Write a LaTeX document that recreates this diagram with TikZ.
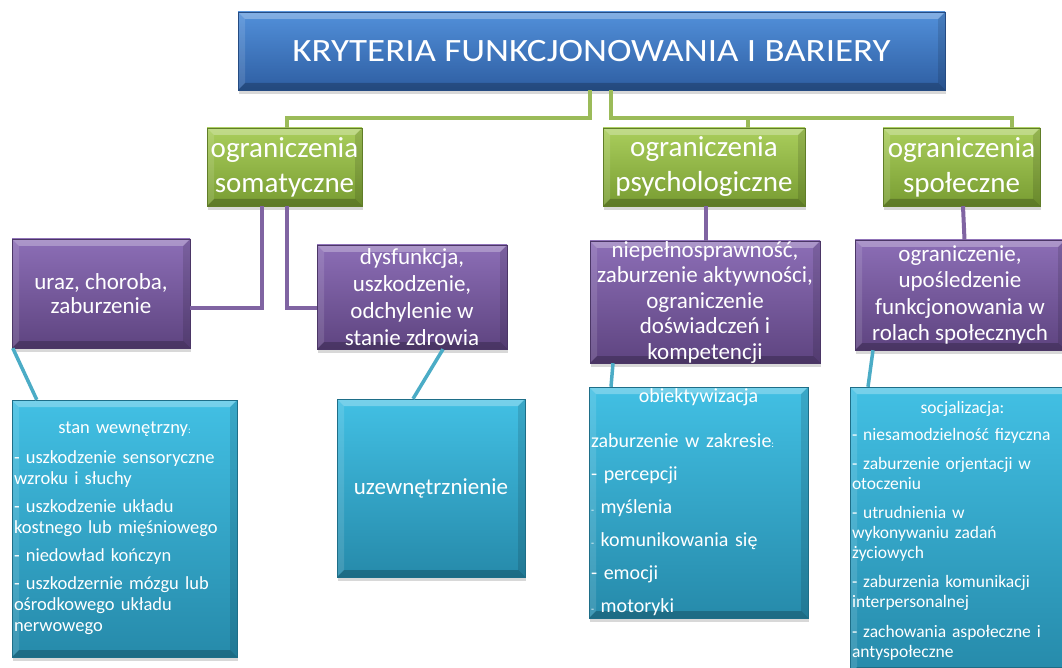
\documentclass[tikz,border=0pt]{standalone}
\usepackage{fontspec}
\setmainfont{Carlito}
\usepackage{tikz}
\usetikzlibrary{shadows}
\definecolor{titletop}{RGB}{82,144,218}
\definecolor{titlebot}{RGB}{46,94,162}
\definecolor{grtop}{RGB}{170,206,92}
\definecolor{grbot}{RGB}{120,156,50}
\definecolor{putop}{RGB}{140,110,182}
\definecolor{pubot}{RGB}{94,68,128}
\definecolor{tltop}{RGB}{66,192,228}
\definecolor{tlbot}{RGB}{38,138,170}
\definecolor{grline}{RGB}{155,187,89}
\definecolor{puline}{RGB}{128,100,162}
\definecolor{tlline}{RGB}{75,172,198}
\tikzset{
    bevel/.style={
        path picture={
            \fill[white, opacity=0.28] (path picture bounding box.north west) -- (path picture bounding box.north east)
                -- ([xshift=-7pt, yshift=-7pt]path picture bounding box.north east)
                -- ([xshift=7pt, yshift=-7pt]path picture bounding box.north west) -- cycle;
            \fill[white, opacity=0.12] (path picture bounding box.north west) -- (path picture bounding box.south west)
                -- ([xshift=7pt, yshift=7pt]path picture bounding box.south west)
                -- ([xshift=7pt, yshift=-7pt]path picture bounding box.north west) -- cycle;
            \fill[black, opacity=0.12] (path picture bounding box.north east) -- (path picture bounding box.south east)
                -- ([xshift=-7pt, yshift=7pt]path picture bounding box.south east)
                -- ([xshift=-7pt, yshift=-7pt]path picture bounding box.north east) -- cycle;
            \fill[black, opacity=0.22] (path picture bounding box.south west) -- (path picture bounding box.south east)
                -- ([xshift=-7pt, yshift=7pt]path picture bounding box.south east)
                -- ([xshift=7pt, yshift=7pt]path picture bounding box.south west) -- cycle;
        }
    },
    boxbase/.style={
        rectangle, inner sep=0pt, text=white, bevel,
        drop shadow={shadow xshift=1pt, shadow yshift=-4pt, opacity=0.3}
    },
    boxsize/.style 2 args={minimum width=#1pt, minimum height=#2pt},
    titlebox/.style={boxbase, top color=titletop, bottom color=titlebot, draw=titlebot!80!black,
        font=\fontsize{37}{40}\selectfont},
    greenbox/.style={boxbase, top color=grtop, bottom color=grbot, draw=grbot!80!black,
        align=center, font=\fontsize{29}{35}\selectfont},
    purplebox/.style={boxbase, top color=putop, bottom color=pubot, draw=pubot!80!black,
        align=center, font=\fontsize{23}{27}\selectfont},
    bluebox/.style={boxbase, top color=tltop, bottom color=tlbot, draw=tlbot!80!black,
        align=left, inner xsep=2pt},
    gline/.style={grline, line width=4pt},
    pline/.style={puline, line width=4pt},
    tline/.style={tlline, line width=3.5pt}
}
\newcommand{\smallsign}[1]{{\fontsize{10}{12}\selectfont #1}}

\begin{document}
\begin{tikzpicture}[x=1pt, y=-1pt]
    \clip (0,0) rectangle (1062,668);
    \fill[white] (0,0) rectangle (1062,668);

    % draw top box
    \node[titlebox, boxsize={707}{78}] (title) at (591.5,51) {\scalebox{1}[0.88]{KRYTERIA FUNKCJONOWANIA I BARIERY}};

    % draw green boxes
    \node[greenbox, boxsize={155}{78}] (som) at (284.5,167) {ograniczenia\\somatyczne};
    \node[greenbox, boxsize={202}{78}] (psy) at (704,167) {ograniczenia\\psychologiczne};
    \node[greenbox, boxsize={157}{78}] (spo) at (961.5,167) {ograniczenia\\społeczne};

    % draw purple boxes
    \node[purplebox, boxsize={178}{109}, font=\fontsize{23}{24}\selectfont] (ura) at (101,293.5) {uraz, choroba,\\zaburzenie};
    \node[purplebox, boxsize={190}{104}] (dys) at (412,297) {dysfunkcja,\\uszkodzenie,\\odchylenie w\\stanie zdrowia};
    \node[purplebox, boxsize={230}{122}, font=\fontsize{23}{25.5}\selectfont] (psp) at (705,302)
        {niepełnosprawność,\\zaburzenie aktywności,\\ograniczenie\\doświadczeń i\\kompetencji};
    \node[purplebox, boxsize={210}{110}, font=\fontsize{23}{26.5}\selectfont] (sps) at (960,295)
        {ograniczenie,\\upośledzenie\\funkcjonowania w\\rolach społecznych};

    % draw blue boxes
    \node[bluebox, boxsize={225}{257}, text width=221pt, font=\fontsize{18.5}{21}\selectfont] (st1) at (124.5,528.5) {%
        \makebox[\linewidth]{stan wewnętrzny\smallsign{:}}\\[9pt]
        - uszkodzenie sensoryczne\\
        wzroku i słuchy\\[7pt]
        - uszkodzenie układu\\
        kostnego lub mięśniowego\\[7pt]
        - niedowład kończyn\\[7pt]
        - uszkodzernie mózgu lub\\
        ośrodkowego układu\\
        nerwowego};
    \node[bluebox, boxsize={188}{178}, align=center, font=\fontsize{23}{27}\selectfont] (uze) at (431,488) {uzewnętrznienie};
    \node[bluebox, boxsize={219}{231}, text width=215pt, font=\fontsize{20}{24}\selectfont] (psb) at (698.5,502.5) {%
        \makebox[\linewidth]{obiektywizacja}\\[21pt]
        zaburzenie w zakresie\smallsign{:}\\[9pt]
        - percepcji\\[9pt]
        \smallsign{-} myślenia\\[9pt]
        \smallsign{-} komunikowania się\\[9pt]
        - emocji\\[9pt]
        \smallsign{-} motoryki};
    \node[bluebox, boxsize={225}{287}, text width=221pt, font=\fontsize{17.5}{20}\selectfont] (spb) at (962.5,530.5) {%
        \makebox[\linewidth]{socjalizacja:}\\[7pt]
        - niesamodzielność fizyczna\\[9pt]
        - zaburzenie orjentacji w\\
        otoczeniu\\[9pt]
        - utrudnienia w\\
        wykonywaniu zadań\\
        życiowych\\[9pt]
        - zaburzenia komunikacji\\
        interpersonalnej\\[10pt]
        - zachowania aspołeczne i\\
        antyspołeczne};

    % draw green connectors
    \draw[gline] ([xshift=-1.5pt]title.south) -- ++(0,28) -| ([xshift=2.5pt]som.north);
    \foreach \n/\s in {psy/44, spo/50.5}
    {
        \draw[gline] ([xshift=19.5pt]title.south) -- ++(0,28) -| ([xshift=\s pt]\n.north);
    }

    % draw purple connectors
    \draw[pline] ([xshift=-22.5pt]som.south) |- ([yshift=-14.5pt]ura.east);
    \draw[pline] ([xshift=2.5pt]som.south) |- ([yshift=-11pt]dys.west);
    \draw[pline] ([xshift=2pt]psy.south) -- ([xshift=1pt]psp.north);
    \draw[pline] ([xshift=1.5pt]spo.south) -- ([xshift=4.5pt]sps.north);

    % draw blue connectors
    \draw[tline] ([xshift=1pt]ura.south west) -- ([xshift=25pt]st1.north west);
    \draw[tline] ([xshift=31pt]dys.south) -- ([xshift=-18pt]uze.north);
    \draw[tline] ([xshift=-92pt]psp.south) -- ([xshift=-87.5pt]psb.north);
    \draw[tline] ([xshift=-87pt]sps.south) -- ([xshift=-94.5pt]spb.north);
\end{tikzpicture}
\end{document}
